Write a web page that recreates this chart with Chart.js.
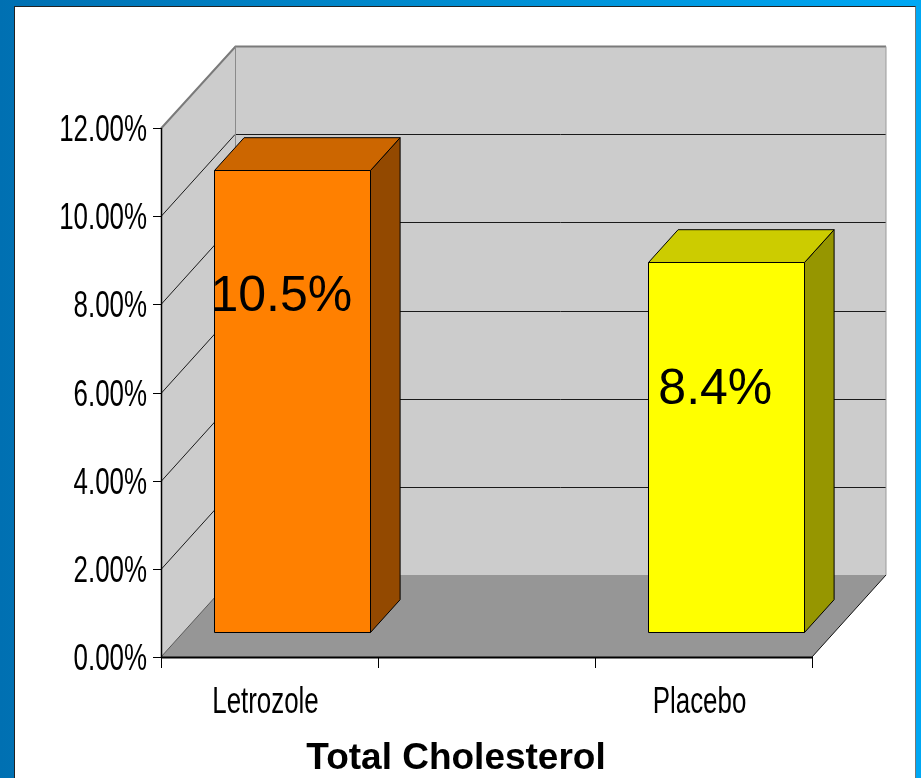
<!DOCTYPE html>
<html>
<head>
<meta charset="utf-8">
<script src="https://cdn.jsdelivr.net/npm/chart.js@4.4.1/dist/chart.umd.min.js"></script>
<style>
  html, body { margin: 0; padding: 0; }
  body {
    width: 921px;
    height: 778px;
    overflow: hidden;
    position: relative;
    background: linear-gradient(to right, #0070b2 0%, #008acd 45%, #00a8f4 100%);
  }
  #panel {
    position: absolute;
    left: 14px;
    top: 6px;
    width: 902px;
    height: 790px;
    background: #ffffff;
    border: 1px solid #222;
    border-right-color: #777;
    box-sizing: border-box;
  }
  #grafico { position: absolute; left: 0; top: 0; }
</style>
</head>
<body>
<div id="panel"></div>
<canvas id="grafico" width="921" height="778"></canvas>
<script>
const categorias = ["Letrozole", "", "Placebo"];
const valores = [10.5, null, 8.4];
const etiquetasValor = ["10.5%", "", "8.4%"];
const ticksEjeY = [0, 2, 4, 6, 8, 10, 12];
const tituloEjeX = "Total Cholesterol";

const coloresFrente = ["#ff8000", null, "#ffff00"];
const coloresArriba = ["#cc6600", null, "#cccc00"];
const coloresLado = ["#934900", null, "#969600"];

// profundidad del "cubo" 3D
const DX = 74;
const DY = 82;
const PROF_INI = 0.3;
const PROF_FIN = 0.7;
const ESCALA_ANGOSTA = 0.7;

function poligono(ctx, puntos, relleno, borde, grosor) {
  ctx.beginPath();
  puntos.forEach((p, i) => (i ? ctx.lineTo(p[0], p[1]) : ctx.moveTo(p[0], p[1])));
  ctx.closePath();
  if (relleno) {
    ctx.fillStyle = relleno;
    ctx.fill();
  }
  if (borde) {
    ctx.strokeStyle = borde;
    ctx.lineWidth = grosor || 1;
    ctx.stroke();
  }
}

function linea(ctx, puntos, color, grosor) {
  ctx.beginPath();
  puntos.forEach((p, i) => (i ? ctx.lineTo(p[0], p[1]) : ctx.moveTo(p[0], p[1])));
  ctx.strokeStyle = color;
  ctx.lineWidth = grosor || 1;
  ctx.stroke();
}

function textoAngosto(ctx, texto, x, y, align) {
  ctx.save();
  ctx.translate(x, y);
  ctx.scale(ESCALA_ANGOSTA, 1);
  ctx.textAlign = align;
  ctx.textBaseline = "alphabetic";
  ctx.fillText(texto, 0, 0);
  ctx.restore();
}

const pluginCaja3D = {
  id: "pluginCaja3D",
  beforeDatasetsDraw(chart) {
    const { ctx, chartArea: a } = chart;
    const ejeY = chart.scales.y;
    const L = a.left, R = a.right, T = a.top, B = a.bottom;

    ctx.save();
    // pared lateral, pared de fondo y piso
    poligono(ctx, [[L, T], [L + DX, T - DY], [L + DX, B - DY], [L, B]], "#cccccc");
    poligono(ctx, [[L + DX, T - DY], [R + DX, T - DY], [R + DX, B - DY], [L + DX, B - DY]], "#cccccc");
    poligono(ctx, [[L, B], [L + DX, B - DY], [R + DX, B - DY], [R, B]], "#969696");

    // lineas de cuadricula
    ticksEjeY.forEach((v) => {
      if (v === ticksEjeY[0] || v === ticksEjeY[ticksEjeY.length - 1]) return;
      const py = Math.round(ejeY.getPixelForValue(v)) + 0.5;
      linea(ctx, [[L, py], [L + DX, py - DY], [R + DX, py - DY]], "#1a1a1a", 1);
    });

    // bordes de las paredes
    const pt = Math.round(T) + 0.5;
    linea(ctx, [[L, pt], [L + DX + 0.5, pt - DY], [R + DX, pt - DY]], "#7a7a7a", 2);
    linea(ctx, [[L + DX + 0.5, pt - DY], [L + DX + 0.5, B - DY]], "#8a8a8a", 1);
    linea(ctx, [[R + DX, pt - DY], [R + DX, B - DY]], "#9a9a9a", 1);
    linea(ctx, [[L, B], [L + DX, B - DY]], "#555555", 1);
    linea(ctx, [[R, B], [R + DX, B - DY]], "#111111", 1);
    ctx.restore();
  },

  afterDatasetsDraw(chart) {
    const { ctx, chartArea: a } = chart;
    const ejeY = chart.scales.y;
    const ejeX = chart.scales.x;
    const meta = chart.getDatasetMeta(0);
    const L = a.left, R = a.right, T = a.top, B = a.bottom;

    const fx = DX * PROF_INI, fy = DY * PROF_INI;
    const px = DX * (PROF_FIN - PROF_INI), py = DY * (PROF_FIN - PROF_INI);

    ctx.save();
    // barras 3D
    meta.data.forEach((barra, i) => {
      if (valores[i] === null) return;
      const { x, y, base, width } = barra.getProps(["x", "y", "base", "width"], true);
      const x0 = Math.round(x - width / 2 + fx) + 0.5;
      const x1 = Math.round(x + width / 2 + fx) + 0.5;
      const y0 = Math.round(y - fy) + 0.5;
      const y1 = Math.round(base - fy) + 0.5;

      poligono(ctx, [[x1, y0], [x1 + px, y0 - py], [x1 + px, y1 - py], [x1, y1]], coloresLado[i], "#000", 1);
      poligono(ctx, [[x0, y0], [x0 + px, y0 - py], [x1 + px, y0 - py], [x1, y0]], coloresArriba[i], "#000", 1);
      poligono(ctx, [[x0, y0], [x1, y0], [x1, y1], [x0, y1]], coloresFrente[i], "#000", 1);
    });

    // ejes
    linea(ctx, [[L + 0.5, T], [L + 0.5, B]], "#000", 1.5);
    linea(ctx, [[L, B + 0.5], [R, B + 0.5]], "#000", 2);
    ticksEjeY.forEach((v) => {
      const ty = Math.round(ejeY.getPixelForValue(v)) + 0.5;
      linea(ctx, [[L - 8, ty], [L, ty]], "#000", 1);
    });
    const n = categorias.length;
    for (let i = 0; i <= n; i++) {
      const tx = Math.round(L + (i * (R - L)) / n) + 0.5;
      linea(ctx, [[tx, B], [tx, B + 11]], "#000", 1);
    }

    // etiquetas del eje Y
    ctx.fillStyle = "#000";
    ctx.font = "37px 'Liberation Sans', Arial, sans-serif";
    ticksEjeY.forEach((v) => {
      const ty = ejeY.getPixelForValue(v);
      textoAngosto(ctx, v.toFixed(2) + "%", L - 14, ty + 13, "right");
    });

    // etiquetas del eje X
    categorias.forEach((c, i) => {
      if (!c) return;
      textoAngosto(ctx, c, ejeX.getPixelForValue(i) - 4, B + 56, "center");
    });

    // etiquetas de valor
    ctx.font = "50px 'Liberation Sans', Arial, sans-serif";
    ctx.textAlign = "center";
    ctx.textBaseline = "middle";
    meta.data.forEach((barra, i) => {
      if (valores[i] === null) return;
      const cx = barra.x + DX * 0.16;
      const cy = ejeY.getPixelForValue(valores[i] - 2.9) - fy;
      ctx.fillText(etiquetasValor[i], cx, cy);
    });

    // titulo
    ctx.font = "bold 37px 'Liberation Sans', Arial, sans-serif";
    ctx.textBaseline = "alphabetic";
    ctx.fillText(tituloEjeX, 456, 769);
    ctx.restore();
  },
};

const canvas = document.getElementById("grafico");

new Chart(canvas.getContext("2d"), {
  type: "bar",
  data: {
    labels: categorias,
    datasets: [
      {
        data: valores,
        backgroundColor: "rgba(0,0,0,0)",
        borderWidth: 0,
        categoryPercentage: 0.8,
        barPercentage: 0.9,
      },
    ],
  },
  options: {
    responsive: false,
    animation: false,
    devicePixelRatio: 1,
    layout: {
      padding: { left: 161, top: 128, right: 109, bottom: 121 },
    },
    scales: {
      x: { display: false, offset: true },
      y: { display: false, min: 0, max: 12 },
    },
    plugins: {
      legend: { display: false },
      tooltip: { enabled: false },
    },
  },
  plugins: [pluginCaja3D],
});
</script>
</body>
</html>
